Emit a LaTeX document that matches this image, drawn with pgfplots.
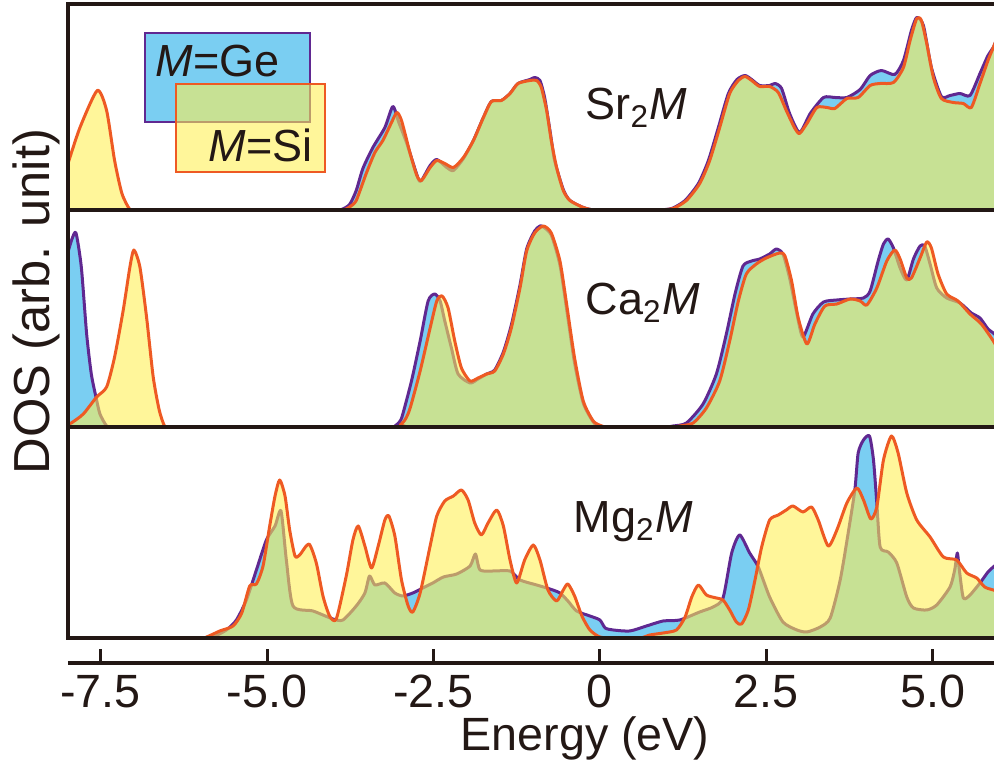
\documentclass[border=0pt]{standalone}
\usepackage{fontspec}
\setmainfont{Liberation Sans}
\usepackage{pgfplots}
\usepackage{pgfplotstable}
\pgfplotsset{compat=1.18}
\definecolor{geblue}{RGB}{122,206,242}
\definecolor{geline}{RGB}{96,40,145}
\definecolor{siyel}{RGB}{255,240,81}
\definecolor{siline}{RGB}{238,90,35}
\definecolor{frame}{RGB}{35,24,21}

% Sr2M
\pgfplotstableread[row sep=\\]{x y\\ -7.99 47\\ -7.81 83\\ -7.55 120\\ -7.41 100\\ -7.29 50\\ -7.18 17\\ -7.06 1\\ -6.95 0\\ -6.80 0\\ -3.95 0\\ -3.83 1\\ -3.75 4\\ -3.66 10\\ -3.51 37\\ -3.38 58\\ -3.26 70\\ -3.13 88\\ -3.05 98\\ -2.98 90\\ -2.85 57\\ -2.75 35\\ -2.68 30\\ -2.55 43\\ -2.45 50\\ -2.33 47\\ -2.20 43\\ -2.05 53\\ -1.90 70\\ -1.75 93\\ -1.63 109\\ -1.48 110\\ -1.35 117\\ -1.23 127\\ -1.05 130\\ -0.95 130\\ -0.88 123\\ -0.80 100\\ -0.73 70\\ -0.65 43\\ -0.55 20\\ -0.45 10\\ -0.25 3\\ -0.10 0.5\\ 0.05 0\\ 0.75 0\\ 0.90 0.5\\ 1.10 2\\ 1.30 10\\ 1.50 27\\ 1.65 50\\ 1.80 83\\ 1.95 117\\ 2.08 130\\ 2.18 134\\ 2.28 130\\ 2.40 124\\ 2.55 124\\ 2.68 118\\ 2.80 100\\ 2.93 82\\ 3.00 77\\ 3.11 87\\ 3.26 103\\ 3.41 103\\ 3.53 102\\ 3.71 112\\ 3.88 113\\ 4.06 125\\ 4.21 127\\ 4.41 128\\ 4.56 143\\ 4.66 170\\ 4.76 192\\ 4.83 190\\ 4.91 167\\ 5.01 133\\ 5.13 112\\ 5.31 108\\ 5.46 107\\ 5.58 103\\ 5.71 127\\ 5.83 150\\ 5.91 163\\ 6.00 178\\}\SrSi
\pgfplotstableread[row sep=\\]{x y\\ -7.99 0\\ -4.00 0\\ -3.88 1\\ -3.76 6\\ -3.66 20\\ -3.56 42\\ -3.41 63\\ -3.23 83\\ -3.11 104\\ -3.02 88\\ -2.90 67\\ -2.73 32\\ -2.68 30\\ -2.55 45\\ -2.45 51\\ -2.30 43\\ -2.20 40\\ -2.05 52\\ -1.90 70\\ -1.75 93\\ -1.63 109\\ -1.48 110\\ -1.35 117\\ -1.23 127\\ -1.05 131\\ -0.98 133\\ -0.90 130\\ -0.83 113\\ -0.75 80\\ -0.68 50\\ -0.55 21\\ -0.45 10\\ -0.25 3\\ -0.10 0.5\\ 0.05 0\\ 0.73 0\\ 0.88 0.5\\ 1.08 2\\ 1.28 10\\ 1.48 27\\ 1.63 50\\ 1.78 83\\ 1.93 117\\ 2.06 131\\ 2.18 135\\ 2.28 131\\ 2.40 125\\ 2.55 125\\ 2.63 127\\ 2.73 122\\ 2.85 97\\ 3.00 78\\ 3.16 97\\ 3.36 113\\ 3.53 113\\ 3.71 113\\ 3.91 121\\ 4.06 135\\ 4.23 140\\ 4.43 136\\ 4.56 150\\ 4.68 180\\ 4.76 193\\ 4.86 185\\ 4.98 143\\ 5.13 114\\ 5.26 115\\ 5.41 117\\ 5.56 115\\ 5.71 137\\ 5.83 155\\ 5.91 163\\ 6.00 178\\}\SrGe
% Ca2M
\pgfplotstableread[row sep=\\]{x y\\ -7.99 175\\ -7.93 188\\ -7.87 194\\ -7.79 160\\ -7.71 93\\ -7.64 53\\ -7.57 30\\ -7.51 13\\ -7.41 1\\ -7.33 0\\ -7.20 0\\ -3.20 0\\ -3.08 1\\ -3.00 6\\ -2.96 13\\ -2.83 46\\ -2.70 86\\ -2.58 126\\ -2.48 133\\ -2.40 126\\ -2.33 106\\ -2.23 79\\ -2.13 53\\ -1.95 44\\ -1.83 48\\ -1.70 53\\ -1.58 57\\ -1.45 75\\ -1.33 102\\ -1.20 142\\ -1.10 178\\ -0.98 196\\ -0.90 201\\ -0.85 200\\ -0.73 192\\ -0.60 162\\ -0.50 118\\ -0.38 64\\ -0.25 24\\ -0.10 5\\ -0.02 0.5\\ 0.10 0\\ 0.95 0\\ 1.10 1\\ 1.30 4\\ 1.55 23\\ 1.75 53\\ 1.90 93\\ 2.03 133\\ 2.15 161\\ 2.28 166\\ 2.40 168\\ 2.55 173\\ 2.65 178\\ 2.75 173\\ 2.85 149\\ 2.96 113\\ 3.05 90\\ 3.20 113\\ 3.36 125\\ 3.56 127\\ 3.76 128\\ 3.96 129\\ 4.06 136\\ 4.18 166\\ 4.26 183\\ 4.33 188\\ 4.41 179\\ 4.51 159\\ 4.61 147\\ 4.71 168\\ 4.81 181\\ 4.88 181\\ 4.96 163\\ 5.06 139\\ 5.21 129\\ 5.41 124\\ 5.58 114\\ 5.71 109\\ 5.83 98\\ 5.91 94\\ 6.00 88\\}\CaGe
\pgfplotstableread[row sep=\\]{x y\\ -7.99 3\\ -7.94 4\\ -7.76 13\\ -7.56 30\\ -7.41 40\\ -7.29 70\\ -7.16 117\\ -7.06 160\\ -7.00 177\\ -6.91 160\\ -6.81 110\\ -6.71 50\\ -6.62 17\\ -6.54 1\\ -6.46 0\\ -6.30 0\\ -3.12 0\\ -3.00 2\\ -2.92 8\\ -2.85 19\\ -2.70 56\\ -2.55 99\\ -2.45 126\\ -2.37 131\\ -2.28 119\\ -2.18 86\\ -2.08 59\\ -1.95 46\\ -1.83 49\\ -1.70 53\\ -1.58 56\\ -1.45 73\\ -1.33 99\\ -1.20 139\\ -1.10 176\\ -0.98 194\\ -0.85 201\\ -0.73 194\\ -0.60 166\\ -0.50 123\\ -0.38 69\\ -0.25 26\\ -0.10 6\\ 0.03 1\\ 0.15 0\\ 1.05 0\\ 1.20 1\\ 1.40 4\\ 1.60 19\\ 1.80 46\\ 1.95 86\\ 2.08 126\\ 2.20 153\\ 2.35 163\\ 2.50 169\\ 2.70 174\\ 2.78 171\\ 2.88 146\\ 2.98 109\\ 3.11 83\\ 3.23 103\\ 3.38 121\\ 3.56 123\\ 3.76 128\\ 3.91 126\\ 4.01 122\\ 4.16 139\\ 4.31 166\\ 4.43 177\\ 4.51 168\\ 4.61 149\\ 4.68 149\\ 4.81 169\\ 4.91 185\\ 4.98 179\\ 5.08 153\\ 5.21 133\\ 5.38 126\\ 5.56 113\\ 5.73 103\\ 5.91 86\\ 6.00 75\\}\CaSi
% Mg2M
\pgfplotstableread[row sep=\\]{x y\\ -7.99 0\\ -6.05 0\\ -5.91 1\\ -5.71 7\\ -5.51 12\\ -5.38 25\\ -5.26 52\\ -5.16 54\\ -5.06 72\\ -4.96 112\\ -4.88 142\\ -4.81 158\\ -4.73 142\\ -4.66 108\\ -4.58 82\\ -4.51 83\\ -4.37 94\\ -4.26 75\\ -4.16 42\\ -4.06 22\\ -3.96 19\\ -3.81 62\\ -3.71 98\\ -3.63 112\\ -3.53 92\\ -3.43 70\\ -3.33 92\\ -3.23 118\\ -3.17 122\\ -3.08 102\\ -2.98 58\\ -2.88 32\\ -2.81 26\\ -2.70 45\\ -2.55 92\\ -2.45 122\\ -2.33 137\\ -2.20 142\\ -2.08 148\\ -1.98 138\\ -1.88 115\\ -1.78 103\\ -1.68 115\\ -1.55 128\\ -1.45 112\\ -1.35 78\\ -1.25 55\\ -1.13 78\\ -1.00 93\\ -0.90 78\\ -0.78 48\\ -0.65 37\\ -0.55 48\\ -0.48 54\\ -0.38 42\\ -0.27 22\\ -0.15 8\\ 0.00 1\\ 0.20 0\\ 0.60 0\\ 0.75 3\\ 0.95 5\\ 1.15 8\\ 1.28 21\\ 1.38 41\\ 1.48 53\\ 1.60 43\\ 1.75 40\\ 1.85 38\\ 1.95 28\\ 2.05 16\\ 2.13 14\\ 2.23 28\\ 2.33 58\\ 2.43 91\\ 2.55 118\\ 2.68 123\\ 2.80 128\\ 2.90 132\\ 3.05 126\\ 3.18 131\\ 3.28 118\\ 3.43 92\\ 3.56 108\\ 3.71 135\\ 3.86 150\\ 3.96 138\\ 4.07 119\\ 4.16 131\\ 4.26 178\\ 4.38 202\\ 4.48 185\\ 4.61 145\\ 4.76 118\\ 4.96 101\\ 5.16 81\\ 5.36 78\\ 5.51 65\\ 5.66 60\\ 5.78 51\\ 5.91 48\\ 6.00 46\\}\MgSi
\pgfplotstableread[row sep=\\]{x y\\ -7.99 0\\ -6.00 0\\ -5.91 0.3\\ -5.81 1\\ -5.61 8\\ -5.46 18\\ -5.31 38\\ -5.16 68\\ -5.01 98\\ -4.88 112\\ -4.79 127\\ -4.71 78\\ -4.61 32\\ -4.31 27\\ -4.01 19\\ -3.86 18\\ -3.66 32\\ -3.53 45\\ -3.46 62\\ -3.38 53\\ -3.23 55\\ -3.08 45\\ -2.96 42\\ -2.81 45\\ -2.66 50\\ -2.51 55\\ -2.35 61\\ -2.15 64\\ -1.95 72\\ -1.87 84\\ -1.80 68\\ -1.60 67\\ -1.35 67\\ -1.20 58\\ -0.95 53\\ -0.75 49\\ -0.60 45\\ -0.48 37\\ -0.35 27\\ -0.15 22\\ 0.00 18\\ 0.08 10\\ 0.20 8\\ 0.45 7\\ 0.70 12\\ 0.95 17\\ 1.20 18\\ 1.50 26\\ 1.70 31\\ 1.85 40\\ 1.98 85\\ 2.10 103\\ 2.25 85\\ 2.38 71\\ 2.55 41\\ 2.75 16\\ 2.96 8\\ 3.11 6\\ 3.31 11\\ 3.46 20\\ 3.61 58\\ 3.73 105\\ 3.83 148\\ 3.88 185\\ 3.96 198\\ 4.05 202\\ 4.11 178\\ 4.16 135\\ 4.21 91\\ 4.33 86\\ 4.46 75\\ 4.61 41\\ 4.71 30\\ 4.91 28\\ 5.06 33\\ 5.26 51\\ 5.33 68\\ 5.37 85\\ 5.40 68\\ 5.46 40\\ 5.56 43\\ 5.71 55\\ 5.83 66\\ 5.91 71\\ 6.00 76\\}\MgGe

\pgfplotsset{
  panel/.style={scale only axis, width=277.8pt, anchor=north west,
    xmin=-7.99, xmax=5.92, ymin=0, axis on top,
    axis x line*=box, axis y line*=left,
    xtick=\empty, ytick=\empty,
    axis line style={line width=1.2pt, draw=frame, line cap=rect}},
  gefill/.style={fill=geblue, draw=none, smooth, tension=0.4},
  geln/.style={draw=geline, line width=0.9pt, smooth, tension=0.4, line join=round, no marks},
  sifill/.style={fill=siyel, fill opacity=0.58, draw=none, smooth, tension=0.4},
  siln/.style={draw=siline, line width=0.9pt, smooth, tension=0.4, line join=round, no marks},
}
\newcommand{\pair}[2]{%
  \addplot[gefill] table {#1} \closedcycle;
  \addplot[geln] table {#1};
  \addplot[sifill] table {#2} \closedcycle;
  \addplot[siln] table {#2};
}

\begin{document}
\begin{tikzpicture}
\begin{axis}[panel, at={(20.4pt,-1.2pt)}, height=61.95pt, ymax=206.5]
\pair{\SrGe}{\SrSi}
\end{axis}
\begin{axis}[panel, at={(20.4pt,-63.15pt)}, height=64.95pt, ymax=216.5]
\pair{\CaGe}{\CaSi}
\end{axis}
\begin{axis}[panel, at={(20.4pt,-128.1pt)}, height=63.3pt, ymax=211]
\pair{\MgGe}{\MgSi}
\end{axis}
\begin{axis}[scale only axis, width=277.8pt, height=4.2pt, anchor=south west,
  at={(20.4pt,-198.9pt)}, xmin=-7.99, xmax=5.92, ymin=0, ymax=1,
  axis x line*=bottom, axis y line=none,
  xtick={-7.5,-5,-2.5,0,2.5,5}, xticklabels={-7.5,-5.0,-2.5,0,2.5,5.0},
  xtick align=inside, major tick length=4.2pt,
  tick style={line width=0.9pt, draw=frame},
  axis line style={line width=1.2pt, draw=frame},
  xticklabel style={anchor=base, yshift=-13.5pt, font=\fontsize{14}{15}\selectfont, text=frame}]
\end{axis}
\begin{scope}[x=0.3pt, y=-0.3pt]
\draw[fill=geblue, draw=geline, line width=0.6pt] (145,33) rectangle (310,122);
\node[anchor=base west, inner sep=0, font=\fontsize{13.5}{14}\selectfont, text=frame] at (155,76.7) {\textit{M}=Ge};
\draw[fill=siyel, fill opacity=0.58, draw=siline, line width=0.6pt] (176,84) rectangle (325,172);
\node[anchor=base west, inner sep=0, font=\fontsize{13.5}{14}\selectfont, text=frame] at (208,162) {\textit{M}=Si};
\node[anchor=base west, inner sep=0, font=\fontsize{13.5}{14}\selectfont, text=frame] at (585,120) {Sr\textsubscript{2}\textit{M}};
\node[anchor=base west, inner sep=0, font=\fontsize{13.5}{14}\selectfont, text=frame] at (585,315) {Ca\textsubscript{2}\textit{M}};
\node[anchor=base west, inner sep=0, font=\fontsize{13.5}{14}\selectfont, text=frame] at (573,533) {Mg\textsubscript{2}\textit{M}};
\node[anchor=base, inner sep=0, font=\fontsize{14}{15}\selectfont, text=frame] at (585,751) {Energy (eV)};
\node[anchor=base, rotate=90, inner sep=0, font=\fontsize{15.2}{16}\selectfont, text=frame] at (50,301.5) {DOS (arb. unit)};
\pgfresetboundingbox
\path[use as bounding box] (0,0) rectangle (994,765);
\end{scope}
\end{tikzpicture}
\end{document}
